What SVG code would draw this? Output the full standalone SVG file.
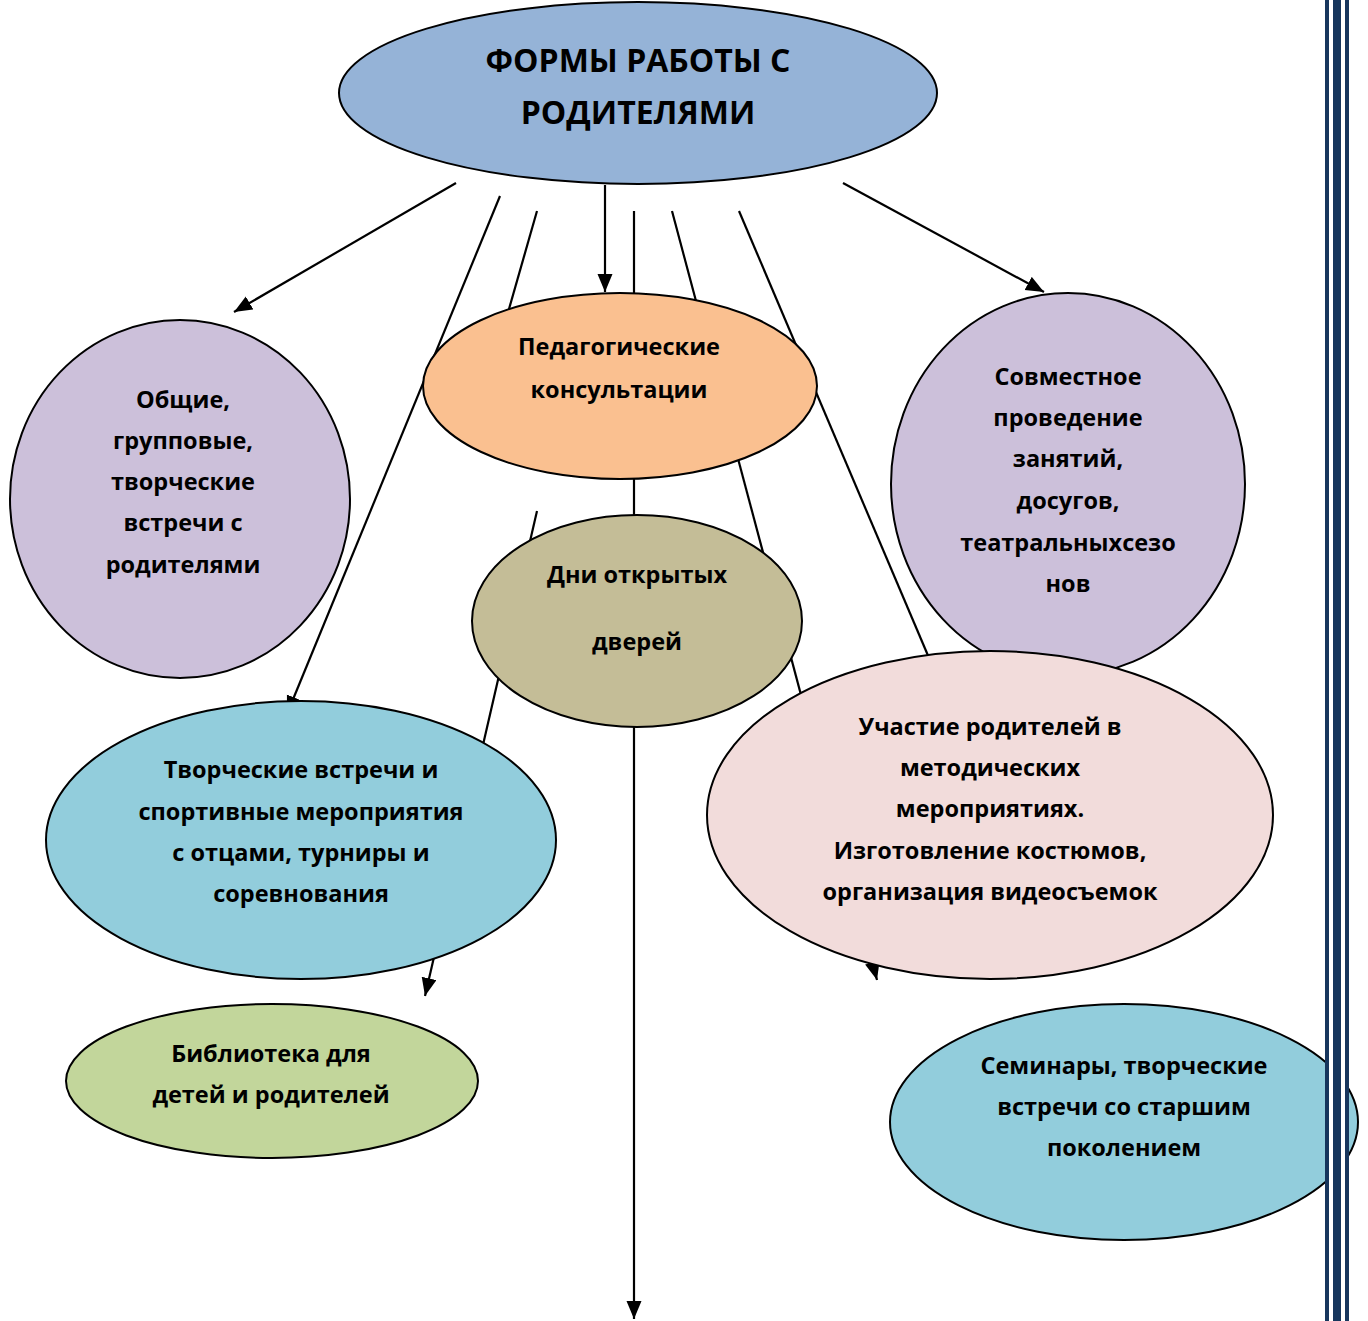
<svg xmlns="http://www.w3.org/2000/svg" width="1368" height="1321" viewBox="0 0 1368 1321">
<style>
.n{stroke:#000;stroke-width:2}
.t{font-family:"Open Sans","Liberation Sans",sans-serif;font-weight:bold;font-size:23.5px;fill:#000;text-anchor:middle}
.h{font-size:32px}
.c{stroke:#000;stroke-width:2.2;fill:none}
.b{fill:#17365d}
</style>
<defs>
<marker id="ah" markerUnits="userSpaceOnUse" markerWidth="20" markerHeight="16" refX="18" refY="7.5" orient="auto">
<path d="M0,0 L18,7.5 L0,15 z" fill="#000"/>
</marker>
</defs>
<rect width="1368" height="1321" fill="#fff"/>
<g id="connectors">
<line class="c" x1="456" y1="183" x2="234" y2="312" marker-end="url(#ah)"/>
<line class="c" x1="500" y1="196" x2="287" y2="714" marker-end="url(#ah)"/>
<line class="c" x1="537" y1="211" x2="503" y2="330"/>
<line class="c" x1="605" y1="185" x2="605" y2="292" marker-end="url(#ah)"/>
<line class="c" x1="634" y1="211" x2="634" y2="1319" marker-end="url(#ah)"/>
<line class="c" x1="672" y1="211" x2="877" y2="980" marker-end="url(#ah)"/>
<line class="c" x1="739" y1="211" x2="935" y2="672"/>
<line class="c" x1="843" y1="183" x2="1044" y2="292" marker-end="url(#ah)"/>
<line class="c" x1="537" y1="511" x2="425" y2="996" marker-end="url(#ah)"/>
</g>
<g id="title">
<ellipse class="n" cx="638" cy="93" rx="299" ry="91" fill="#95b3d7"/>
<text class="t h" x="638" y="72">ФОРМЫ РАБОТЫ С</text>
<text class="t h" x="638" y="124">РОДИТЕЛЯМИ</text>
</g>
<g id="obshie">
<ellipse class="n" cx="180" cy="499" rx="170" ry="179" fill="#ccc0da"/>
<text class="t" x="183" y="408">Общие,</text>
<text class="t" x="183" y="449">групповые,</text>
<text class="t" x="183" y="490">творческие</text>
<text class="t" x="183" y="531">встречи с</text>
<text class="t" x="183" y="573">родителями</text>
</g>
<g id="pedagog">
<ellipse class="n" cx="620" cy="386" rx="197" ry="93" fill="#fac090"/>
<text class="t" x="619" y="355">Педагогические</text>
<text class="t" x="619" y="398">консультации</text>
</g>
<g id="sovmestnoe">
<ellipse class="n" cx="1068" cy="484" rx="177" ry="191" fill="#ccc0da"/>
<text class="t" x="1068" y="385">Совместное</text>
<text class="t" x="1068" y="426">проведение</text>
<text class="t" x="1068" y="467">занятий,</text>
<text class="t" x="1068" y="509">досугов,</text>
<text class="t" x="1068" y="551">театральныхсезо</text>
<text class="t" x="1068" y="592">нов</text>
</g>
<g id="dni">
<ellipse class="n" cx="637" cy="621" rx="165" ry="106" fill="#c4bd97"/>
<text class="t" x="637" y="583">Дни открытых</text>
<text class="t" x="637" y="650">дверей</text>
</g>
<g id="tvorcheskie">
<ellipse class="n" cx="301" cy="840" rx="255" ry="139" fill="#92cddc"/>
<text class="t" x="301" y="778">Творческие встречи и</text>
<text class="t" x="301" y="820">спортивные мероприятия</text>
<text class="t" x="301" y="861">с отцами, турниры и</text>
<text class="t" x="301" y="902">соревнования</text>
</g>
<g id="uchastie">
<ellipse class="n" cx="990" cy="815" rx="283" ry="164" fill="#f2dcdb"/>
<text class="t" x="990" y="735">Участие родителей в</text>
<text class="t" x="990" y="776">методических</text>
<text class="t" x="990" y="817">мероприятиях.</text>
<text class="t" x="990" y="859">Изготовление костюмов,</text>
<text class="t" x="990" y="900">организация видеосъемок</text>
</g>
<g id="biblioteka">
<ellipse class="n" cx="272" cy="1081" rx="206" ry="77" fill="#c2d69b"/>
<text class="t" x="271" y="1062">Библиотека для</text>
<text class="t" x="271" y="1103">детей и родителей</text>
</g>
<g id="seminary">
<ellipse class="n" cx="1124" cy="1122" rx="234" ry="118" fill="#92cddc"/>
<text class="t" x="1124" y="1074">Семинары, творческие</text>
<text class="t" x="1124" y="1115">встречи со старшим</text>
<text class="t" x="1124" y="1156">поколением</text>
</g>
<g id="border">
<rect x="1325" y="0" width="24" height="1321" fill="#fff"/>
<rect class="b" x="1325" y="0" width="4" height="1321"/>
<rect class="b" x="1333" y="0" width="8" height="1321"/>
<rect class="b" x="1345" y="0" width="4" height="1321"/>
</g>
</svg>
